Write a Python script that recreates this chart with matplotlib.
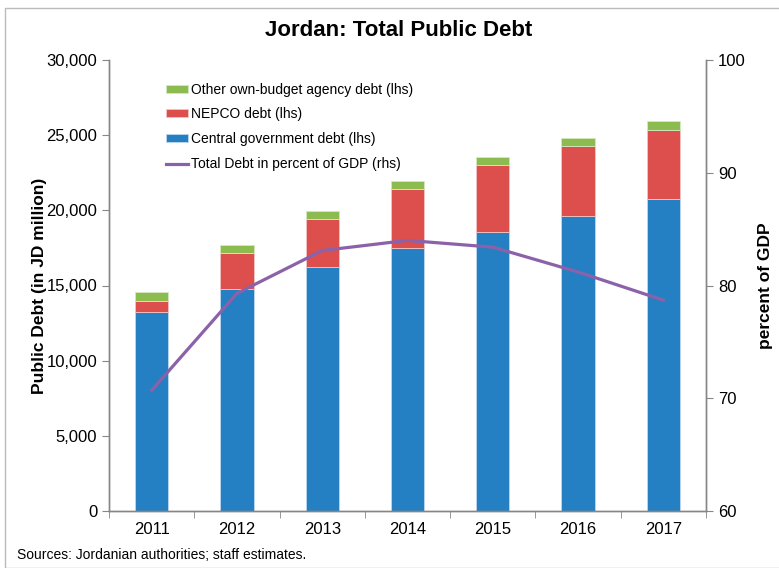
import matplotlib
matplotlib.use("Agg")
import matplotlib.pyplot as plt
import numpy as np
from matplotlib.patches import Rectangle

years = ["2011", "2012", "2013", "2014", "2015", "2016", "2017"]
central = [13260, 14790, 16210, 17480, 18580, 19650, 20760]
nepco = [710, 2360, 3220, 3960, 4440, 4610, 4610]
other = [600, 570, 530, 520, 530, 540, 580]
debt_pct_gdp = [70.7, 79.3, 83.1, 84.0, 83.4, 81.2, 78.7]

c_blue = "#2480C2"
c_red = "#DD4F4C"
c_green = "#8CBC50"
c_purple = "#8B62AA"
grey = "#868686"

plt.rcParams["font.family"] = ["Liberation Sans", "DejaVu Sans"]

fig = plt.figure(figsize=(7.79, 5.68), dpi=100)
W, H = 779, 568
ax = fig.add_axes([109 / W, 1 - 511 / H, (706 - 109) / W, (511 - 60) / H])
ax2 = ax.twinx()

x = np.arange(len(years))
bw = 0.39
central_a = np.array(central)
nepco_a = np.array(nepco)
other_a = np.array(other)
b1 = ax.bar(x, central_a, bw, color=c_blue, edgecolor="#BFD8EE", linewidth=0.6, label="Central government debt (lhs)")
b2 = ax.bar(x, nepco_a, bw, bottom=central_a, color=c_red, edgecolor="#F2C4C3", linewidth=0.6, label="NEPCO debt (lhs)")
b3 = ax.bar(x, other_a, bw, bottom=central_a + nepco_a, color=c_green, edgecolor="#D5E8C0", linewidth=0.6, label="Other own-budget agency debt (lhs)")
l1, = ax2.plot(x, debt_pct_gdp, color=c_purple, linewidth=2.3, label="Total Debt in percent of GDP (rhs)")

ax.set_xlim(-0.5, len(years) - 0.5)
ax.set_ylim(0, 30000)
ax2.set_ylim(60, 100)
ax.set_yticks(np.arange(0, 30001, 5000))
ax.set_yticklabels([f"{v:,}" for v in range(0, 30001, 5000)])
ax2.set_yticks(np.arange(60, 101, 10))
ax.set_xticks(x)
ax.set_xticklabels(years)
ax.set_xticks(np.arange(-0.5, len(years) - 0.4, 1), minor=True)
ax.tick_params(axis="x", which="major", length=0, labelsize=12, pad=8)
ax.tick_params(axis="x", which="minor", length=5, color=grey, direction="out")
ax.tick_params(axis="y", length=5, color=grey, labelsize=12, direction="out")
ax2.tick_params(axis="y", length=5, color=grey, labelsize=12, direction="out")

for a in (ax, ax2):
    a.spines["top"].set_visible(False)
    for s in ("left", "right", "bottom"):
        a.spines[s].set_color(grey)
        a.spines[s].set_linewidth(1.0)

ax.set_ylabel("Public Debt (in JD million)", fontsize=12.5, fontweight="bold", labelpad=-0.5)
ax2.set_ylabel("percent of GDP", fontsize=12.5, fontweight="bold", labelpad=9)

fig.text(399 / W, 1 - 30 / H, "Jordan: Total Public Debt", ha="center", va="center",
         fontsize=16, fontweight="bold")
fig.text(17 / W, 1 - 555 / H, "Sources: Jordanian authorities; staff estimates.",
         ha="left", va="center", fontsize=10)

leg = ax.legend([b3, b2, b1, l1],
                [b3.get_label(), b2.get_label(), b1.get_label(), l1.get_label()],
                loc="upper left", bbox_to_anchor=((160 - 109) / (706 - 109), 1 - (77 - 60) / (511 - 60)),
                frameon=False, fontsize=10, handlelength=1.6, handleheight=0.5,
                handletextpad=0.2, labelspacing=0.78, borderaxespad=0)
leg.set_zorder(5)

fig.add_artist(Rectangle((5 / W, 0), 1, 1 - 8 / H, transform=fig.transFigure,
                         fill=False, edgecolor="#BBBBBB", linewidth=1.0))

fig.savefig("out.png", dpi=100)
